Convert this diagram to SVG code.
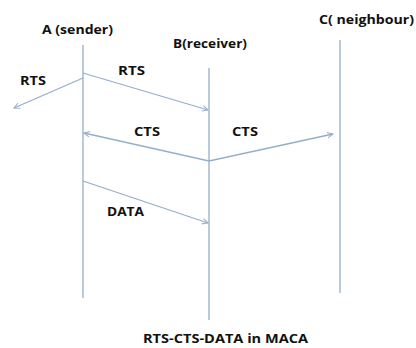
<svg xmlns="http://www.w3.org/2000/svg" width="416" height="348" viewBox="0 0 416 348">
<defs>
<style>
.life{stroke:#95aecb;stroke-width:1.3;fill:none}
.msg{stroke:#95aecb;stroke-width:1.3;fill:none;marker-end:url(#arr)}
text{font-family:"Open Sans","Liberation Sans",sans-serif;font-weight:bold;font-size:13px;fill:#111}
</style>
<marker id="arr" viewBox="0 0 10 10" refX="9" refY="5" markerWidth="7" markerHeight="7" markerUnits="userSpaceOnUse" orient="auto">
<path d="M1,1 L9,5 L1,9" fill="none" stroke="#95aecb" stroke-width="1.5"/>
</marker>
</defs>
<rect width="416" height="348" fill="#fff"/>
<g id="nodeA">
<text x="42" y="34" textLength="71" lengthAdjust="spacingAndGlyphs">A (sender)</text>
<line class="life" x1="83" y1="45" x2="83" y2="298"/>
</g>
<g id="nodeB">
<text x="173" y="48" textLength="74" lengthAdjust="spacingAndGlyphs">B(receiver)</text>
<line class="life" x1="209" y1="68" x2="209" y2="320"/>
</g>
<g id="nodeC">
<text x="319" y="24" textLength="95" lengthAdjust="spacingAndGlyphs">C( neighbour)</text>
<line class="life" x1="340" y1="40" x2="340" y2="293"/>
</g>
<g id="connectors">
<line class="msg" x1="83" y1="78" x2="14" y2="108"/>
<line class="msg" x1="83" y1="73" x2="208" y2="110"/>
<line class="msg" x1="209" y1="161" x2="84" y2="133"/>
<line class="msg" x1="209" y1="161" x2="333" y2="134"/>
<line class="msg" x1="83" y1="181" x2="208" y2="223"/>
</g>
<g id="labels">
<text x="20" y="85" textLength="26" lengthAdjust="spacingAndGlyphs">RTS</text>
<text x="118" y="75" textLength="27" lengthAdjust="spacingAndGlyphs">RTS</text>
<text x="134" y="136" textLength="26" lengthAdjust="spacingAndGlyphs">CTS</text>
<text x="232" y="136" textLength="26" lengthAdjust="spacingAndGlyphs">CTS</text>
<text x="107" y="216" textLength="37" lengthAdjust="spacingAndGlyphs">DATA</text>
<text x="143" y="343" textLength="165" lengthAdjust="spacingAndGlyphs">RTS-CTS-DATA in MACA</text>
</g>
</svg>
